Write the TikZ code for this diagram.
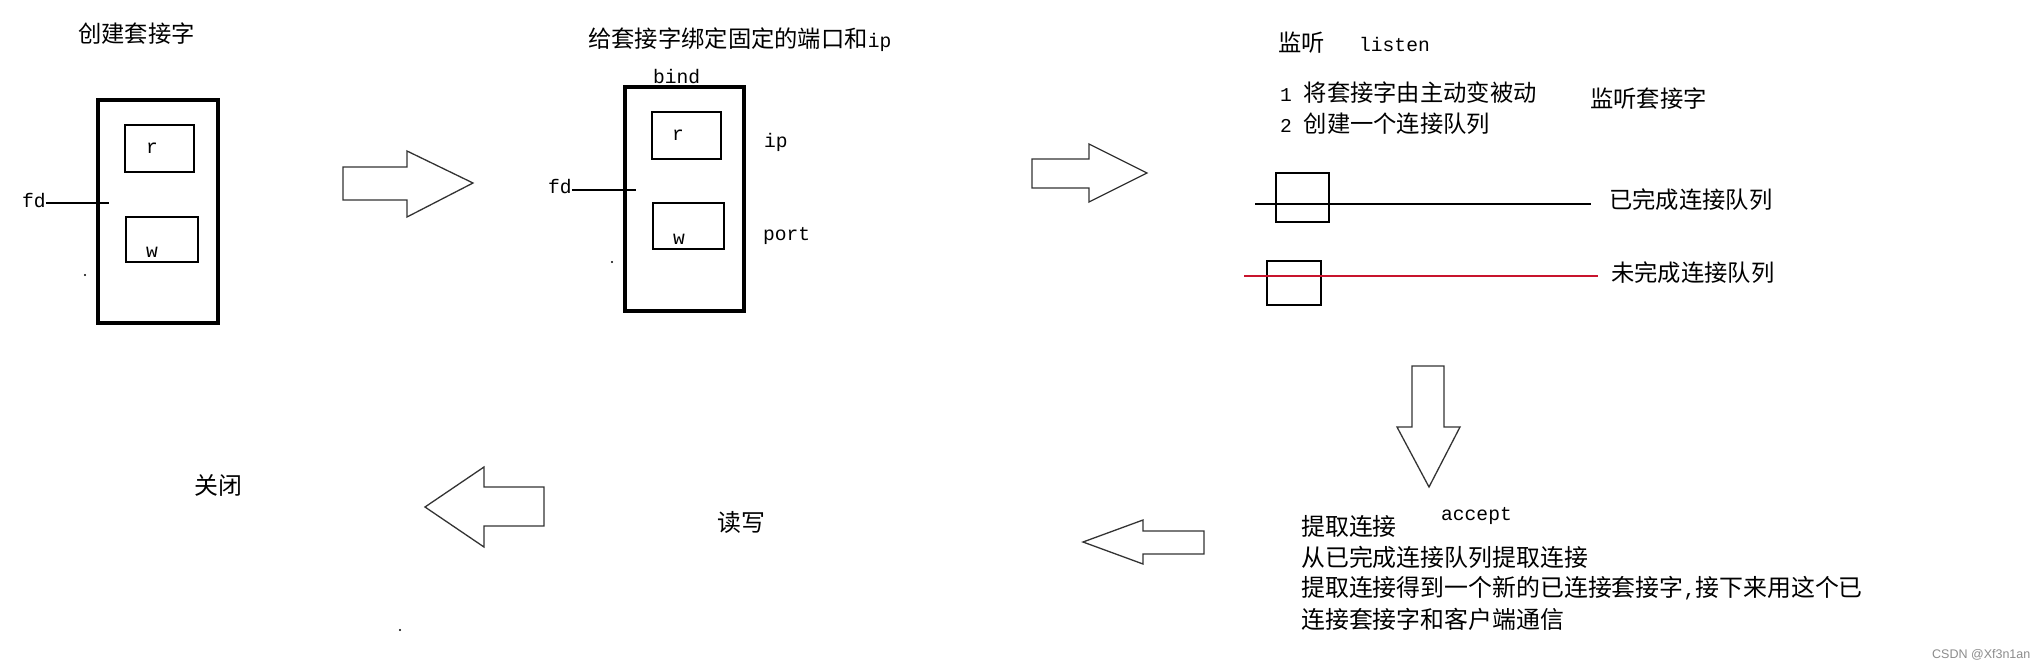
\documentclass[tikz,border=0pt]{standalone}
\usepackage{fontspec}
\setmainfont{Noto Sans CJK SC}
\newfontfamily\latfont{Liberation Mono}
\newfontfamily\wmfont{Liberation Sans}
\newcommand\mylat[1]{{\latfont\fontsize{19.6}{24}\selectfont #1}}
\newcommand\mycomma{{\latfont\fontsize{19.9}{24}\selectfont ,}}
\tikzset{
  cjk/.style={inner sep=0pt, anchor=west, font=\fontsize{23.3}{28}\selectfont},
  cjkb/.style={inner sep=0pt, anchor=west, font=\fontsize{23.9}{28}\selectfont},
  lat/.style={inner sep=0pt, anchor=west, font=\latfont\fontsize{19.6}{24}\selectfont},
  bigbox/.style={draw, line width=3.5pt, inner sep=0pt},
  smallbox/.style={draw, line width=1.3pt, inner sep=0pt},
  blockarrow/.style={draw=black!80, line width=1.3pt, line join=miter},
  wire/.style={line width=1.3pt},
  speck/.style={fill=black, circle, inner sep=0pt, minimum size=2.2pt}
}
\begin{document}
\begin{tikzpicture}[x=1pt, y=-1pt]
\fill[white] (0,0) rectangle (2043,670);
\useasboundingbox (0,0) rectangle (2043,670);

% ---------- stage 1: create socket ----------
\node[cjk] (t1) at (78,34) {创建套接字};
\node[bigbox, minimum width=120pt, minimum height=223pt] (sock1) at (158,211.5) {};
\node[smallbox, minimum width=69pt, minimum height=47pt] (r1) at (159.5,148.5) {};
\node[lat] (r1t) at (146,148) {r};
\node[smallbox, minimum width=72pt, minimum height=45pt] (w1) at (162,239.5) {};
\node[lat] (w1t) at (146,252) {w};
\node[lat] (fd1) at (22,201) {fd};
\coordinate (fd1end) at (109,203);
\draw[wire] (fd1.east |- fd1end) -- (fd1end);
\node[speck] (dot1) at (85,275) {};

% arrow 1
\draw[blockarrow] (343,167) -- (407,167) -- (407,151) -- (473,183) -- (407,217) -- (407,200) -- (343,200) -- cycle;

% ---------- stage 2: bind ----------
\node[cjk] (t2) at (588,40) {给套接字绑定固定的端口和\mylat{ip}};
\node[lat] (bind) at (653,77) {bind};
\node[bigbox, minimum width=119pt, minimum height=224pt] (sock2) at (684.5,199) {};
\node[smallbox, minimum width=69pt, minimum height=47pt] (r2) at (686.5,135.5) {};
\node[lat] (r2t) at (672,135) {r};
\node[smallbox, minimum width=71pt, minimum height=46pt] (w2) at (688.5,226) {};
\node[lat] (w2t) at (673,239) {w};
\node[lat] (ip) at (764,142) {ip};
\node[lat] (port) at (763,236) {port};
\node[lat] (fd2) at (548,187) {fd};
\coordinate (fd2end) at (636,190);
\draw[wire] (fd2.east |- fd2end) -- (fd2end);
\node[speck] (dot2) at (612,262) {};

% arrow 2
\draw[blockarrow] (1032,159) -- (1089,159) -- (1089,144) -- (1147,173) -- (1089,202) -- (1089,188) -- (1032,188) -- cycle;

% ---------- stage 3: listen ----------
\node[cjk] (t3) at (1278,43) {监听};
\node[lat] (listen) at (1359,44) {listen};
\node[cjk] (l1) at (1280,93) {\mylat{1~}将套接字由主动变被动};
\node[cjk] (l2) at (1280,124) {\mylat{2~}创建一个连接队列};
\node[cjk] (lsock) at (1590,99) {监听套接字};

\node[smallbox, minimum width=53pt, minimum height=49pt] (q1) at (1302.5,197.5) {};
\coordinate (q1a) at (1255,204);
\coordinate (q1b) at (1591,204);
\draw[wire] (q1a) -- (q1b);
\node[cjk] (done) at (1609,200) {已完成连接队列};

\node[smallbox, minimum width=54pt, minimum height=44pt] (q2) at (1294,283) {};
\coordinate (q2a) at (1244,276);
\coordinate (q2b) at (1598,276);
\draw[wire, draw={rgb,255:red,200;green,20;blue,45}] (q2a) -- (q2b);
\node[cjk] (undone) at (1611,273) {未完成连接队列};

% down arrow
\draw[blockarrow] (1412,366) -- (1444,366) -- (1444,427) -- (1460,427) -- (1429,487) -- (1397,427) -- (1412,427) -- cycle;

% ---------- stage 4: accept ----------
\node[lat] (accept) at (1441,516) {accept};
\node[cjkb] (a1) at (1301,526) {提取连接};
\node[cjkb] (a2) at (1301,557) {从已完成连接队列提取连接};
\node[cjkb] (a3) at (1301,588) {提取连接得到一个新的已连接套接字\mycomma 接下来用这个已};
\node[cjkb] (a4) at (1301,619) {连接套接字和客户端通信};

% small left arrow
\draw[blockarrow] (1204,531) -- (1143,531) -- (1143,520) -- (1083,542) -- (1143,564) -- (1143,554) -- (1204,554) -- cycle;

% ---------- stage 5: read/write ----------
\node[cjkb] (rw) at (717,522) {读写};

% big left arrow
\draw[blockarrow] (544,487) -- (484,487) -- (484,467) -- (425,507) -- (484,547) -- (484,526) -- (544,526) -- cycle;

% ---------- stage 6: close ----------
\node[cjkb] (close) at (194,485) {关闭};
\node[speck] (dot3) at (400,630) {};

% watermark
\node[inner sep=0pt, anchor=west, text=black!45, font=\wmfont\fontsize{12.5}{15}\selectfont] (wm) at (1932,655) {CSDN @Xf3n1an};
\end{tikzpicture}
\end{document}
